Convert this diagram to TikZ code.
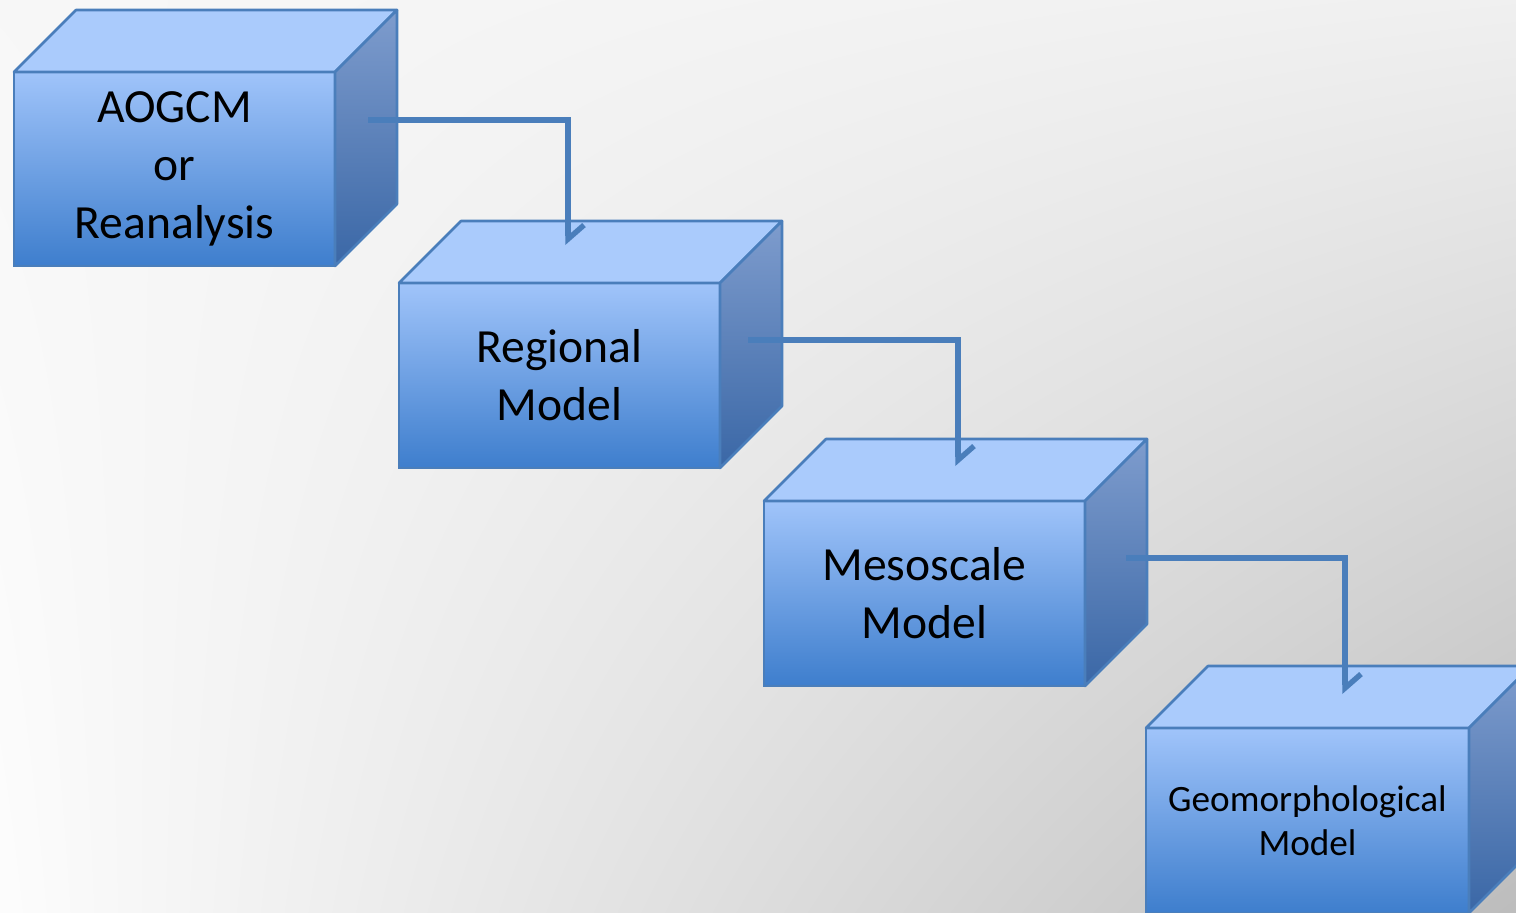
\documentclass[tikz,border=0pt]{standalone}
\usepackage{fontspec}
\setmainfont{Carlito}
\usepackage{xcolor}
\usetikzlibrary{positioning,calc,arrows.meta,shadings}

\definecolor{edgeblue}{RGB}{74,126,187}
\definecolor{frontlight}{RGB}{160,196,250}
\definecolor{frontdark}{RGB}{62,126,205}
\definecolor{toplight}{RGB}{170,203,252}
\definecolor{sidelight}{RGB}{126,156,205}
\definecolor{sidedark}{RGB}{58,103,166}

\begin{document}
\begin{tikzpicture}[
    x=0.5pt, y=-0.5pt,
    cube/.style={rectangle, draw=edgeblue, line width=1.3pt, top color=frontlight, bottom color=frontdark,
        minimum width=160.5pt, minimum height=92.5pt, inner sep=0pt, outer sep=0pt, align=center,
        font=\fontsize{23.8}{29}\selectfont},
    topface/.style={draw=edgeblue, line width=1.3pt, fill=toplight, line join=round},
    sideface/.style={draw=edgeblue, line width=1.3pt, top color=sidelight, bottom color=sidedark, line join=round},
    link/.style={draw=edgeblue, line width=2.7pt, -{Straight Barb[harpoon, length=7pt, width=16pt]}}
]
    % Background
    \clip (0,0) rectangle (1516,912);
    \shade[upper left=black!3, upper right=black!6, lower left=black!1, lower right=black!26] (0,0) rectangle (1516,912);

    % Nodes
    \node[cube, minimum height=97pt] (aogcm) at (174.5,169) {AOGCM\\or\\Reanalysis};
    \node[cube, below right=8.5pt and 32pt of aogcm] (regional) {Regional\\Model};
    \node[cube, below right=16.5pt and 22pt of regional] (meso) {Mesoscale\\Model};
    \node[cube, below right=21pt and 30.5pt of meso, minimum width=161.5pt,
        font=\fontsize{18.6}{22}\selectfont] (geo) {Geomorphological\\Model};

    % Top and side faces
    \foreach \n in {aogcm,regional,meso,geo} {
        \path[topface] (\n.north west) -- ++(62,-62) -- ($(\n.north east)+(62,-62)$) -- (\n.north east) -- cycle;
        \path[sideface] (\n.north east) -- ++(62,-62) -- ($(\n.south east)+(62,-62)$) -- (\n.south east) -- cycle;
    }

    % Arrows
    \coordinate (aogcm out) at ($(aogcm.north east)+(33,48)$);
    \coordinate (regional in) at ($(regional.north west)+(169,-38)$);
    \coordinate (regional out) at ($(regional.north east)+(28,57)$);
    \coordinate (meso in) at ($(meso.north west)+(194,-35)$);
    \coordinate (meso out) at ($(meso.north east)+(41,57)$);
    \coordinate (geo in) at ($(geo.north west)+(199,-34)$);
    \draw[link] (aogcm out) -| (regional in);
    \draw[link] (regional out) -| (meso in);
    \draw[link] (meso out) -| (geo in);
\end{tikzpicture}
\end{document}
